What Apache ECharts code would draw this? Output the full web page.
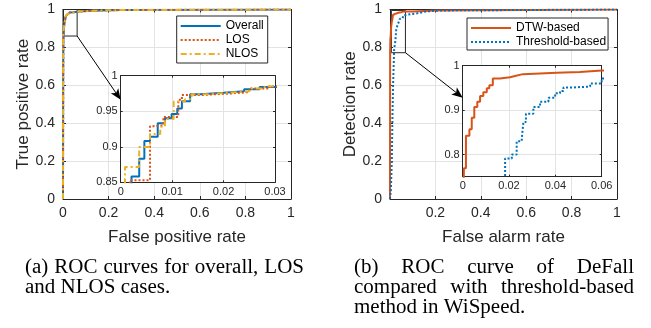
<!DOCTYPE html>
<html>
<head>
<meta charset="utf-8">
<script src="https://cdn.jsdelivr.net/npm/echarts@6/dist/echarts.min.js"></script>
<style>
  html, body { margin: 0; padding: 0; background: #fff; }
  #chart { width: 651px; height: 328px; }
</style>
</head>
<body>
<div id="chart"></div>
<script>
// (a) ROC curves, [false positive rate, true positive rate]
const overallRoc = [[0, 0], [0.0004, 0.35], [0.0008, 0.62], [0.0013, 0.79], [0.0021, 0.858], [0.0036, 0.883],
  [0.0046, 0.908], [0.0057, 0.914], [0.0072, 0.933], [0.0086, 0.94], [0.0099, 0.946], [0.011, 0.954],
  [0.0119, 0.964], [0.0135, 0.974], [0.0155, 0.976], [0.02, 0.978], [0.024, 0.981], [0.027, 0.984],
  [0.03, 0.986], [0.045, 0.99], [0.07, 0.994], [0.12, 0.997], [0.25, 1], [1, 1]];
const losRoc = [[0, 0], [0.0004, 0.3], [0.0009, 0.6], [0.0014, 0.8], [0.0018, 0.853], [0.0057, 0.929],
  [0.0064, 0.93], [0.0083, 0.942], [0.0112, 0.966], [0.0119, 0.973], [0.016, 0.975], [0.0215, 0.977],
  [0.025, 0.982], [0.029, 0.985], [0.03, 0.986], [0.05, 0.99], [0.08, 0.994], [0.13, 0.997], [0.25, 1], [1, 1]];
const nlosRoc = [[0, 0], [0.0003, 0.3], [0.0006, 0.65], [0.00084, 0.8715], [0.0036, 0.8995], [0.0057, 0.918],
  [0.0077, 0.928], [0.0086, 0.939], [0.0103, 0.9636], [0.0125, 0.967], [0.0138, 0.974], [0.017, 0.976],
  [0.021, 0.978], [0.025, 0.982], [0.028, 0.985], [0.03, 0.986], [0.05, 0.99], [0.08, 0.994], [0.13, 0.997],
  [0.25, 1], [1, 1]];

// (b) DeFall (DTW) vs WiSpeed threshold, [false alarm rate, detection rate]
const dtwRoc = [[0, 0], [0.0003, 0.5], [0.0005, 0.769], [0.0014, 0.842], [0.0029, 0.857], [0.0039, 0.883],
  [0.005, 0.907], [0.0063, 0.919], [0.0075, 0.932], [0.0089, 0.94], [0.0104, 0.949], [0.0115, 0.956],
  [0.013, 0.971], [0.0161, 0.974], [0.0204, 0.977], [0.0226, 0.981], [0.026, 0.984], [0.0406, 0.986],
  [0.0506, 0.989], [0.06, 0.99], [0.1, 0.995], [0.2, 1], [1, 1]];
const thresholdRoc = [[0, 0], [0.004, 0.05], [0.008, 0.2], [0.011, 0.45], [0.014, 0.62], [0.0183, 0.791],
  [0.0212, 0.8], [0.0233, 0.83], [0.0255, 0.836], [0.0262, 0.873], [0.0273, 0.892], [0.0305, 0.907],
  [0.0334, 0.919], [0.037, 0.928], [0.0399, 0.938], [0.042, 0.943], [0.0435, 0.951], [0.0478, 0.953],
  [0.055, 0.96], [0.0578, 0.96], [0.06, 0.971], [0.07, 0.975], [0.09, 0.98], [0.12, 0.99], [0.16, 0.995],
  [0.22, 1], [1, 1]];

// tick values of the zoomed insets
const insetATicksY = [0.85, 0.9, 0.95, 1];
const insetBTicksY = [0.8, 0.9, 1];

// zoom boxes [[x0, y0], [x1, y1]] and where the arrows land on the insets
const zoomBoxA = [[0, 0.86], [0.062, 1]];
const zoomBoxB = [[0.006, 0.772], [0.068, 0.995]];
const arrowTargetA = [0, 0.966];
const arrowTargetB = [0, 0.928];

const captionA = ['(a) ROC curves for overall, LOS', 'and NLOS cases.'];
const captionB = ['(b) ROC curve of DeFall', 'compared with threshold-based', 'method in WiSpeed.'];

const FONT = 'Liberation Sans';
const SERIF = 'Liberation Serif';
const AXIS_COLOR = '#262626';
const GRID_COLOR = '#e3e3e3';
const BLUE = '#0072BD';
const RED = '#D95319';
const YELLOW = '#EDB120';

const chart = echarts.init(document.getElementById('chart'), null, { renderer: 'canvas' });

// one axis pair per side so the box gets inner ticks on all four edges (matlab look)
function buildAxes(gridIndex, dim, range, extra) {
  const inset = gridIndex >= 2;
  const positions = dim === 'x' ? ['bottom', 'top'] : ['left', 'right'];
  return positions.map((position, i) => {
    const mirror = i === 1;
    const tick = { show: true, inside: true, length: inset ? 2 : 3, lineStyle: { color: AXIS_COLOR, width: 1 } };
    const label = {
      show: !mirror,
      color: AXIS_COLOR,
      fontFamily: FONT,
      fontSize: inset ? 11 : 14,
      margin: inset ? (dim === 'x' ? 4 : 3) : (dim === 'x' ? 7 : 8),
      formatter: range.formatter,
    };
    if (range.ticks) {
      tick.customValues = range.ticks;
      label.customValues = range.ticks;
    }
    const axis = {
      type: 'value',
      gridIndex,
      position,
      min: range.min,
      max: range.max,
      z: inset ? 3 : 0,
      axisLine: { show: true, onZero: false, lineStyle: { color: AXIS_COLOR, width: 1 } },
      axisTick: tick,
      axisLabel: label,
      splitLine: { show: !mirror, lineStyle: { color: GRID_COLOR, width: 1 } },
    };
    if (range.interval) axis.interval = range.interval;
    if (!mirror && extra) Object.assign(axis, extra);
    return axis;
  });
}

const axisName = (name) => ({
  name,
  nameLocation: 'middle',
  nameGap: 30,
  nameTextStyle: { color: AXIS_COLOR, fontFamily: FONT, fontSize: 17 },
});

const unit = { min: 0, max: 1, interval: 0.2 };

const xAxis = [
  ...buildAxes(0, 'x', unit, axisName('False positive rate')),
  ...buildAxes(1, 'x', { ...unit, formatter: (v) => (v === 0 ? '' : String(v)) }, axisName('False alarm rate')),
  ...buildAxes(2, 'x', { min: 0, max: 0.03, interval: 0.01 }),
  ...buildAxes(3, 'x', { min: 0, max: 0.06, interval: 0.02 }),
];
const yAxis = [
  ...buildAxes(0, 'y', unit, axisName('True positive rate')),
  ...buildAxes(1, 'y', unit, axisName('Detection rate')),
  ...buildAxes(2, 'y', { min: 0.85, max: 1, ticks: insetATicksY }),
  ...buildAxes(3, 'y', { min: 0.75, max: 1, ticks: insetBTicksY }),
];

function curve(name, data, color, type, axisIndex, inset, markArea) {
  const s = {
    type: 'line',
    name,
    data,
    step: 'end',
    symbol: 'none',
    clip: true,
    silent: true,
    animation: false,
    xAxisIndex: axisIndex,
    yAxisIndex: axisIndex,
    z: inset ? 4 : 2,
    color,
    lineStyle: { color, width: 2, type },
  };
  if (markArea) s.markArea = markArea;
  return s;
}

const boxArea = (box) => ({
  silent: true,
  label: { show: false },
  itemStyle: { color: 'rgba(0,0,0,0)', borderColor: AXIS_COLOR, borderWidth: 1 },
  data: [[{ coord: box[0] }, { coord: box[1] }]],
});

const dotted = [2, 2];
const dashDot = [6, 3, 2, 3];

const series = [
  curve('Overall', overallRoc, BLUE, 'solid', 0, false, boxArea(zoomBoxA)),
  curve('LOS', losRoc, RED, dotted, 0, false),
  curve('NLOS', nlosRoc, YELLOW, dashDot, 0, false),
  curve('Overall', overallRoc, BLUE, 'solid', 4, true),
  curve('LOS', losRoc, RED, dotted, 4, true),
  curve('NLOS', nlosRoc, YELLOW, dashDot, 4, true),
  curve('DTW-based', dtwRoc, RED, 'solid', 2, false, boxArea(zoomBoxB)),
  curve('Threshold-based', thresholdRoc, BLUE, dotted, 2, false),
  curve('DTW-based', dtwRoc, RED, 'solid', 6, true),
  curve('Threshold-based', thresholdRoc, BLUE, dotted, 6, true),
];

// line samples only: the legend always adds a marker, so make it invisible
const legendBase = {
  orient: 'vertical',
  itemWidth: 40,
  itemHeight: 14,
  itemGap: 2,
  selectedMode: false,
  backgroundColor: '#fff',
  borderColor: AXIS_COLOR,
  borderWidth: 1,
  borderRadius: 0,
  lineStyle: { width: 2 },
  itemStyle: { color: 'rgba(0,0,0,0)', borderWidth: 0, opacity: 0 },
  textStyle: { color: '#000', fontFamily: FONT, fontSize: 12 },
};

chart.setOption({
  animation: false,
  backgroundColor: '#fff',
  grid: [
    { left: 63, top: 9.5, width: 228, height: 189.5 },
    { left: 390, top: 9.5, width: 227, height: 189.5 },
    { left: 120.7, top: 75.7, width: 154.3, height: 106.6, show: true, backgroundColor: '#fff', borderWidth: 0, z: 1 },
    { left: 462.7, top: 65.7, width: 139, height: 111, show: true, backgroundColor: '#fff', borderWidth: 0, z: 1 },
  ],
  xAxis,
  yAxis,
  legend: [
    { ...legendBase, data: ['Overall', 'LOS', 'NLOS'], left: 176.7, top: 16, padding: [4, 4, 3, 3] },
    { ...legendBase, data: ['DTW-based', 'Threshold-based'], left: 467, top: 18, padding: [4, 2, 2, 3] },
  ],
  series,
});

// arrows from the zoom boxes to the insets, plus the captions
function arrow(from, to) {
  const dx = to[0] - from[0];
  const dy = to[1] - from[1];
  const len = Math.hypot(dx, dy);
  const ux = dx / len;
  const uy = dy / len;
  const head = 11;
  const half = 4.5;
  const bx = to[0] - ux * head;
  const by = to[1] - uy * head;
  const nx = to[0] - ux * head * 0.75;
  const ny = to[1] - uy * head * 0.75;
  return [
    { type: 'line', z: 20, silent: true, shape: { x1: from[0], y1: from[1], x2: nx, y2: ny }, style: { stroke: '#000', lineWidth: 1 } },
    {
      type: 'polygon', z: 20, silent: true,
      shape: { points: [to, [bx - uy * half, by + ux * half], [nx, ny], [bx + uy * half, by - ux * half]] },
      style: { fill: '#000' },
    },
  ];
}

const ctx = document.createElement('canvas').getContext('2d');
const CAP_SIZE = 20;
const CAP_SCALE = 1.05;
ctx.font = CAP_SIZE + 'px "' + SERIF + '"';

function captionLine(text, x, y, width) {
  const words = text.split(' ');
  const style = { fontSize: CAP_SIZE, fontFamily: SERIF, fill: '#000', verticalAlign: 'middle' };
  if (!width) {
    return [{ type: 'text', x, y, scaleX: CAP_SCALE, silent: true, style: { ...style, text } }];
  }
  const widths = words.map((w) => ctx.measureText(w).width * CAP_SCALE);
  const gap = (width - widths.reduce((a, b) => a + b, 0)) / (words.length - 1);
  let cx = x;
  return words.map((w, i) => {
    const el = { type: 'text', x: cx, y, scaleX: CAP_SCALE, silent: true, style: { ...style, text: w } };
    cx += widths[i] + gap;
    return el;
  });
}

const cornerA = chart.convertToPixel({ xAxisIndex: 0, yAxisIndex: 0 }, [zoomBoxA[1][0], zoomBoxA[0][1]]);
const tipA = chart.convertToPixel({ xAxisIndex: 4, yAxisIndex: 4 }, arrowTargetA);
const cornerB = chart.convertToPixel({ xAxisIndex: 2, yAxisIndex: 2 }, [zoomBoxB[1][0], zoomBoxB[0][1]]);
const tipB = chart.convertToPixel({ xAxisIndex: 6, yAxisIndex: 6 }, arrowTargetB);

chart.setOption({
  graphic: [
    ...arrow(cornerA, tipA),
    ...arrow(cornerB, tipB),
    ...captionLine(captionA[0], 25, 268, 279),
    ...captionLine(captionA[1], 25, 288),
    ...captionLine(captionB[0], 354, 268, 280),
    ...captionLine(captionB[1], 354, 288, 280),
    ...captionLine(captionB[2], 354, 307.5),
  ],
});
</script>
</body>
</html>
